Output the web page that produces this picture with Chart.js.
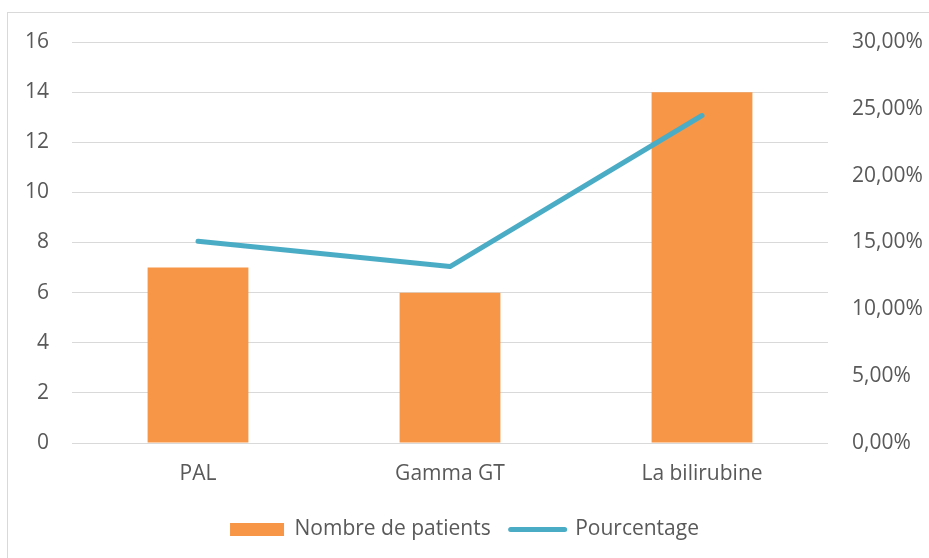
<!DOCTYPE html>
<html>
<head>
<meta charset="utf-8">
<script src="https://cdn.jsdelivr.net/npm/chart.js@4/dist/chart.umd.min.js"></script>
<style>
  html, body { margin: 0; padding: 0; background: #ffffff; overflow: hidden; }
  #frame { position: absolute; left: 7px; top: 12px; width: 1000px; height: 1000px; border: 1px solid #d9d9d9; box-sizing: border-box; }
  #wrap { position: absolute; left: 0; top: 0; width: 929px; height: 558px; }
</style>
</head>
<body>
<div id="frame"></div>
<div id="wrap"><canvas id="c" width="929" height="558"></canvas></div>
<script>
const categories = ["PAL", "Gamma GT", "La bilirubine"];
const patients = [7, 6, 14];
const percentages = [0.151, 0.132, 0.245];
const leftTicks = [0, 2, 4, 6, 8, 10, 12, 14, 16];
const rightTicks = [0, 0.05, 0.10, 0.15, 0.20, 0.25, 0.30];
const seriesNames = ["Nombre de patients", "Pourcentage"];

const FONT = { family: "'Open Sans', sans-serif", size: 21 };
const TEXT = '#595959';
const GRID = '#d9d9d9';

new Chart(document.getElementById('c'), {
  data: {
    labels: categories,
    datasets: [
      {
        type: 'bar',
        label: seriesNames[0],
        data: patients,
        backgroundColor: '#f79646',
        borderWidth: 0,
        yAxisID: 'y',
        order: 1,
        barPercentage: 0.4,
        categoryPercentage: 1.0
      },
      {
        type: 'line',
        label: seriesNames[1],
        data: percentages,
        borderColor: '#4bacc6',
        backgroundColor: '#4bacc6',
        borderWidth: 5,
        borderCapStyle: 'round',
        borderJoinStyle: 'round',
        pointRadius: 0,
        pointHoverRadius: 0,
        tension: 0,
        yAxisID: 'y1',
        order: 0
      }
    ]
  },
  options: {
    responsive: false,
    animation: false,
    layout: { padding: { left: 0, right: 0, top: 42, bottom: 8 } },
    plugins: {
      tooltip: { enabled: false },
      legend: {
        position: 'bottom',
        labels: {
          font: FONT,
          color: TEXT,
          usePointStyle: true,
          pointStyleWidth: 54,
          boxHeight: 13,
          padding: 20,
          sort: (a, b) => a.datasetIndex - b.datasetIndex,
          generateLabels: (chart) => {
            const items = Chart.defaults.plugins.legend.labels.generateLabels(chart);
            items.forEach(it => {
              if (it.datasetIndex === 0) {
                it.pointStyle = 'rect';
                it.fillStyle = '#f79646';
                it.strokeStyle = '#f79646';
                it.lineWidth = 0;
              } else {
                it.pointStyle = 'line';
                it.fillStyle = '#4bacc6';
                it.strokeStyle = '#4bacc6';
                it.lineWidth = 5;
                it.lineCap = 'round';
              }
            });
            return items;
          }
        }
      }
    },
    scales: {
      x: {
        grid: { display: false },
        border: { display: false },
        ticks: { font: FONT, color: TEXT, padding: 10, maxRotation: 0 },
        afterFit: (s) => { s.height = 56; }
      },
      y: {
        position: 'left',
        min: 0, max: 16,
        afterBuildTicks: (s) => { s.ticks = leftTicks.map(v => ({ value: v })); },
        grid: { color: GRID, lineWidth: 1, drawTicks: false },
        border: { display: false },
        ticks: { font: FONT, color: TEXT, padding: 23 },
        afterFit: (s) => { s.width = 72; }
      },
      y1: {
        position: 'right',
        min: 0, max: 0.30,
        afterBuildTicks: (s) => { s.ticks = rightTicks.map(v => ({ value: v })); },
        grid: { drawOnChartArea: false, drawTicks: false },
        border: { display: false },
        ticks: {
          font: FONT, color: TEXT, padding: 24,
          callback: (v) => (v * 100).toFixed(2).replace('.', ',') + '%'
        },
        afterFit: (s) => { s.width = 101; }
      }
    }
  }
});
</script>
</body>
</html>
